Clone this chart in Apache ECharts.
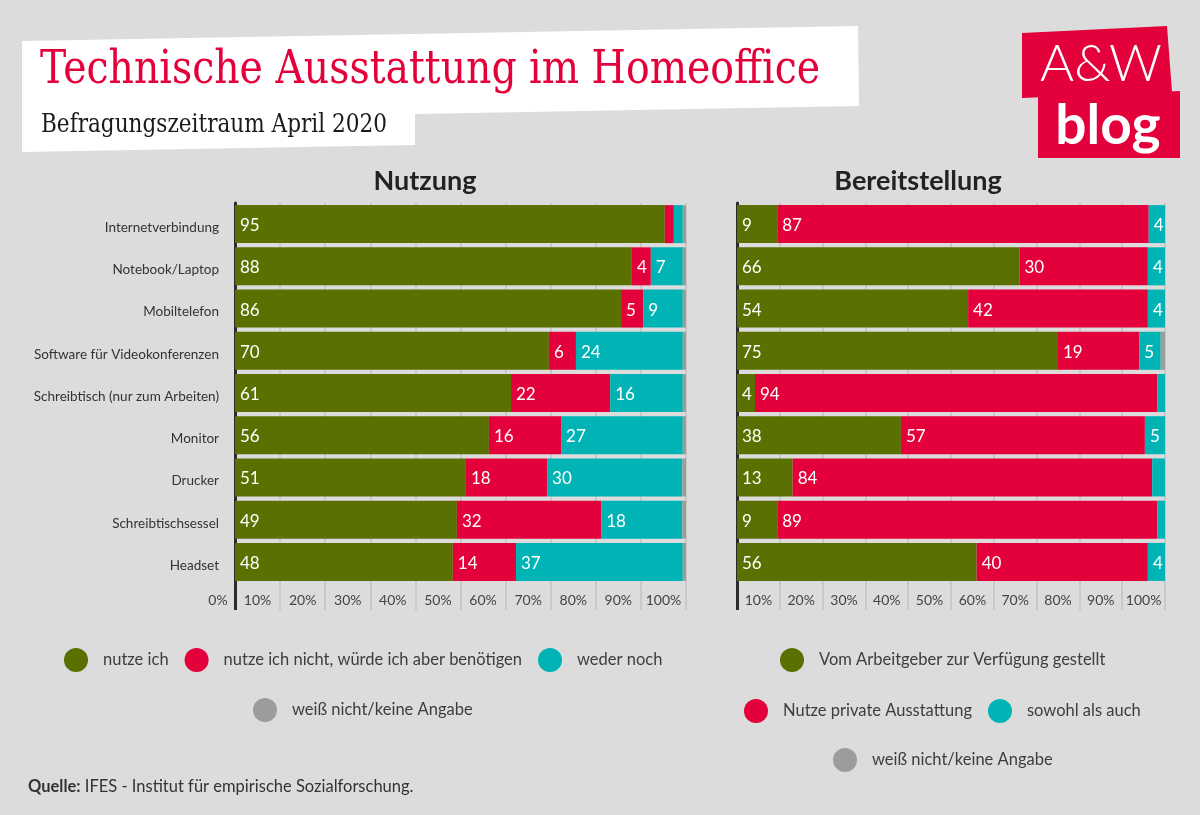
<!DOCTYPE html>
<html>
<head>
<meta charset="utf-8">
<script src="https://cdn.jsdelivr.net/npm/echarts@6/dist/echarts.min.js"></script>
<style>
html,body{margin:0;padding:0;background:#dcdcdc;}
#c{width:1200px;height:815px;}
</style>
</head>
<body>
<div id="c"></div>
<script>
// ---------- DATA ----------
const categories = ['Internetverbindung','Notebook/Laptop','Mobiltelefon','Software für Videokonferenzen','Schreibtisch (nur zum Arbeiten)','Monitor','Drucker','Schreibtischsessel','Headset'];

// Nutzung (left)
const nutzeIch      = [95.3, 88.0, 85.6, 69.6, 61.2, 56.3, 51.2, 49.2, 48.3];
const benoetigen    = [2.0, 4.2, 4.9, 6.0, 22.0, 16.0, 18.0, 32.0, 14.0];
const wederNoch     = [2.0, 7.1, 8.8, 23.7, 16.1, 27.0, 30.0, 18.0, 37.0];
const weissNichtL   = [0.7, 0.7, 0.7, 0.7, 0.7, 0.7, 0.8, 0.8, 0.7];

// Bereitstellung (right)
const arbeitgeber   = [9.4, 66.0, 54.0, 75.0, 4.2, 38.3, 13.0, 9.4, 56.0];
const privat        = [86.8, 30.0, 42.0, 19.0, 94.0, 57.0, 84.0, 88.8, 40.0];
const beides        = [3.8, 4.0, 4.0, 5.0, 1.8, 4.7, 3.0, 1.8, 4.0];
const weissNichtR   = [0, 0, 0, 1.0, 0, 0, 0, 0, 0];

const tickLabels = ['0%','10%','20%','30%','40%','50%','60%','70%','80%','90%','100%'];

const namesL = ['nutze ich','nutze ich nicht, würde ich aber benötigen','weder noch','weiß nicht/keine Angabe'];
const namesR = ['Vom Arbeitgeber zur Verfügung gestellt','Nutze private Ausstattung','sowohl als auch','weiß nicht/keine Angabe'];

const title = 'Technische Ausstattung im Homeoffice';
const subtitle = 'Befragungszeitraum April 2020';
const panelTitles = ['Nutzung','Bereitstellung'];
const source = 'IFES - Institut für empirische Sozialforschung.';

// ---------- STYLE ----------
const C = {green:'#5a7000', red:'#e4003a', teal:'#00b4b6', gray:'#9c9c9c'};
const colors = [C.green, C.red, C.teal, C.gray];
const FONT = 'Lato, "Noto Sans", sans-serif';
const SERIF = '"DejaVu Serif", serif';

function fitScale(text, font, target){
  const cv = document.createElement('canvas').getContext('2d');
  cv.font = font;
  return target / cv.measureText(text).width;
}

const chart = echarts.init(document.getElementById('c'), null, {renderer:'canvas'});

const labelPos = tickLabels.map((t,i)=> i===0 ? 0 : i*10-5);
const labelMap = {}; tickLabels.forEach((t,i)=>{ labelMap[labelPos[i]] = t; });

function mainX(grid, withZero){
  return {
    type:'value', gridIndex:grid, position:'bottom', min:0, max:100, interval:10,
    axisLine:{show:false},
    splitLine:{show:true, lineStyle:{color:'#c2c2c2', width:1.5}},
    axisTick:{show:true, customValues:[10,20,30,40,50,60,70,80,90,100], length:27, lineStyle:{color:'#c2c2c2', width:1.5}},
    axisLabel:{
      customValues: withZero ? labelPos : labelPos.slice(1),
      margin:10, fontSize:14, color:'#444', fontFamily:FONT,
      formatter:(v)=> v===0 ? '{z|0%}' : labelMap[v],
      rich:{z:{padding:[0,34,0,0], fontSize:14, color:'#444', fontFamily:FONT}}
    }
  };
}
function zeroX(grid){
  return {
    type:'value', gridIndex:grid, position:'bottom', min:0, max:100, interval:10,
    axisLine:{show:false}, splitLine:{show:false}, axisLabel:{show:false},
    axisTick:{show:true, customValues:[0], length:27, lineStyle:{color:'#2b2b2b', width:3}}
  };
}
function catY(grid, showLabels){
  return {
    type:'category', gridIndex:grid, data:categories, inverse:true,
    axisLine:{show:true, lineStyle:{color:'#2b2b2b', width:3}},
    axisTick:{show:false},
    axisLabel:{show:showLabels, fontSize:13.5, color:'#333', fontFamily:FONT, margin:16,
      formatter:(v)=>'{c|'+v+'}', rich:{c:{fontSize:13.5, color:'#333', fontFamily:FONT, padding:[7,0,0,0]}}}
  };
}
const lbl = {
  show:true, position:'insideLeft', distance:5, color:'#fff', fontSize:17, fontFamily:FONT, offset:[0,1.5],
  formatter:(p)=> Math.round(p.value) >= 4 ? String(Math.round(p.value)) : ''
};
function bars(names, arrays, xi, yi, stack){
  return names.map((n,i)=>({
    name:n, type:'bar', stack:stack, xAxisIndex:xi, yAxisIndex:yi,
    data:arrays[i], barCategoryGap:'10%', itemStyle:{color:colors[i]},
    label:lbl, emphasis:{disabled:true}, silent:true
  }));
}

const legBase = {
  orient:'horizontal', itemWidth:24, itemHeight:24, itemGap:16, icon:'circle', padding:0,
  textStyle:{fontSize:16.5, color:'#3d3d3d', fontFamily:FONT, padding:[0,0,0,10]},
  selectedMode:false
};

const titleFont = '46px ' + SERIF;
const subFont = '26px ' + SERIF;

const option = {
  backgroundColor:'#dcdcdc',
  animation:false,
  grid:[
    {left:235, top:203, width:451, height:380},
    {left:737, top:203, width:428, height:380}
  ],
  xAxis:[mainX(0,true), zeroX(0), mainX(1,false), zeroX(1)],
  yAxis:[catY(0,true), catY(1,false)],
  series:[
    ...bars(namesL, [nutzeIch, benoetigen, wederNoch, weissNichtL], 0, 0, 'L'),
    ...bars(namesR, [arbeitgeber, privat, beides, weissNichtR], 2, 1, 'R')
  ],
  legend:[
    Object.assign({}, legBase, {data:namesL.slice(0,3), left:64, top:648}),
    Object.assign({}, legBase, {data:namesL.slice(3), left:253, top:698}),
    Object.assign({}, legBase, {data:namesR.slice(0,1), left:780, top:648}),
    Object.assign({}, legBase, {data:namesR.slice(1,3), left:744, top:699}),
    Object.assign({}, legBase, {data:namesR.slice(3), left:833, top:748})
  ],
  graphic:[
    // title box
    {type:'polygon', silent:true, shape:{points:[[22,41],[858,26],[859,106],[415,114],[415,145],[22,152]]}, style:{fill:'#ffffff'}},
    {type:'text', x:40, y:71, scaleX:fitScale(title, titleFont, 780), silent:true,
      style:{x:0, y:0, text:title, font:titleFont, fill:C.red, verticalAlign:'middle'}},
    {type:'text', x:41, y:125, scaleX:fitScale(subtitle, subFont, 346), silent:true,
      style:{x:0, y:0, text:subtitle, font:subFont, fill:'#1a1a1a', verticalAlign:'middle'}},
    // logo
    {type:'polygon', silent:true, shape:{points:[[1022,33],[1167,26],[1172,92],[1022,98]]}, style:{fill:C.red}},
    {type:'polygon', silent:true, shape:{points:[[1038,96],[1180,91],[1180,158],[1038,158]]}, style:{fill:C.red}},
    {type:'text', x:1101, y:64, silent:true, style:{text:'A&W', font:'300 52px Lato, sans-serif', fill:'#fff', align:'center', verticalAlign:'middle'}},
    {type:'text', x:1108, y:126, silent:true, style:{text:'blog', font:'bold 55px Lato, sans-serif', fill:'#fff', align:'center', verticalAlign:'middle'}},
    // panel titles
    {type:'text', x:425, y:181, silent:true, style:{text:panelTitles[0], font:'bold 27px '+FONT, fill:'#222', align:'center', verticalAlign:'middle'}},
    {type:'text', x:918, y:181, silent:true, style:{text:panelTitles[1], font:'bold 27px '+FONT, fill:'#222', align:'center', verticalAlign:'middle'}},
    // source
    {type:'text', x:28, y:787, silent:true, style:{text:'{b|Quelle:} '+source, font:'16.5px '+FONT, fill:'#333', verticalAlign:'middle',
      rich:{b:{fontWeight:'bold', fontSize:16.5, fontFamily:FONT, fill:'#333'}}}}
  ]
};
chart.setOption(option);
</script>
</body>
</html>
